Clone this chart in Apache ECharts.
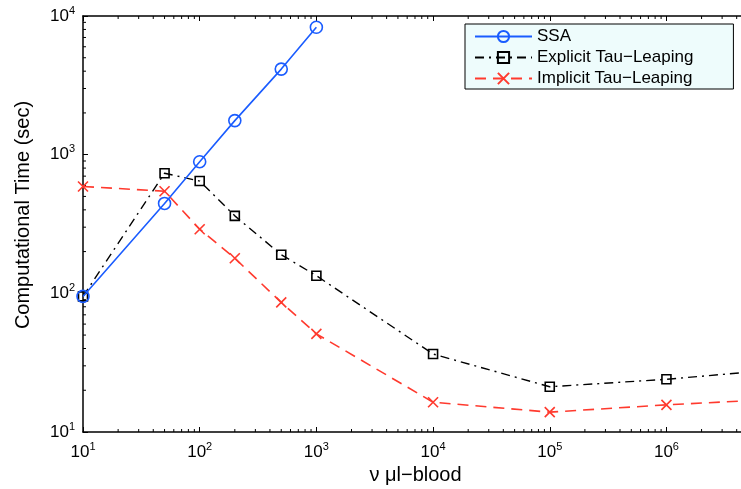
<!DOCTYPE html>
<html><head><meta charset="utf-8">
<script src="https://cdn.jsdelivr.net/npm/echarts@6/dist/echarts.min.js"></script>
<style>html,body{margin:0;padding:0;background:#fff}#c{width:741px;height:489px}</style>
</head><body><div id="c"></div>
<script>
const xSSA = [10, 50, 100, 200, 500, 1000];
const ySSA = [95, 445, 890, 1760, 4140, 8300];
const xTau = [10, 50, 100, 200, 500, 1000, 1e4, 1e5, 1e6, 5e6];
const yExplicit = [95, 735, 645, 362, 190, 134, 36.5, 21.2, 24, 27];
const yImplicit = [590, 545, 290, 179, 86, 51, 16.4, 13.9, 15.7, 16.8];
const xMinorTicks = [];
for (let d = 10; d < 5e6; d *= 10) for (let k = 2; k <= 9; k++) if (k * d < 5e6) xMinorTicks.push(k * d);
const yMinorTicks = [];
for (let d = 10; d < 1e4; d *= 10) for (let k = 2; k <= 9; k++) yMinorTicks.push(k * d);
const X_MIN = 10, X_MAX = 5e6, Y_MIN = 10, Y_MAX = 1e4;
const FONT = 'Liberation Sans, Arial, sans-serif';

const zip = (a, b) => a.map((v, i) => [v, b[i]]);
const fmt = v => {
  const e = Math.log10(v);
  if (Math.abs(e - Math.round(e)) > 1e-6) return '';
  return '{b|10}{e|' + Math.round(e) + '}';
};
const rich = {
  b: {fontSize: 17, fontFamily: FONT, color: '#000'},
  e: {fontSize: 11, fontFamily: FONT, color: '#000', padding: [0, 0, 11, 0]}
};

const chart = echarts.init(document.getElementById('c'));
chart.setOption({
  animation: false,
  backgroundColor: '#fff',
  grid: {left: 83, top: 16, width: 665, height: 416, outerBoundsMode: 'none', containLabel: false},
  legend: {
    data: ['SSA', 'Explicit Tau\u2212Leaping', 'Implicit Tau\u2212Leaping'],
    orient: 'vertical', left: 465, top: 24,
    backgroundColor: '#eefcfc', borderColor: '#000', borderWidth: 1,
    padding: [4, 40, 2, 9], itemGap: 4, itemWidth: 57, itemHeight: 14,
    textStyle: {fontSize: 17, fontFamily: FONT, color: '#000'}
  },
  xAxis: [{
    type: 'log', logBase: 10, min: X_MIN, max: X_MAX,
    name: '\u03bd \u03bcl\u2212blood', nameLocation: 'middle', nameGap: 30,
    nameTextStyle: {fontSize: 20, fontFamily: FONT, color: '#000'},
    axisLine: {lineStyle: {color: '#000', width: 1.5}},
    axisTick: {inside: true, length: 5, lineStyle: {color: '#000'}},
    axisLabel: {formatter: fmt, rich: rich, margin: 9, showMaxLabel: false},
    splitLine: {show: false}
  }, {
    type: 'log', logBase: 10, min: X_MIN, max: X_MAX, position: 'top',
    axisLine: {lineStyle: {color: '#000', width: 1.5}},
    axisTick: {inside: true, length: 5, lineStyle: {color: '#000'}},
    axisLabel: {show: false}, splitLine: {show: false}
  }],
  yAxis: [{
    type: 'log', logBase: 10, min: Y_MIN, max: Y_MAX,
    name: 'Computational Time (sec)', nameLocation: 'middle', nameGap: 50,
    nameTextStyle: {fontSize: 20, fontFamily: FONT, color: '#000', padding: [0, 0, 0, 18]},
    axisLine: {lineStyle: {color: '#000', width: 1.5}},
    axisTick: {inside: true, length: 5, lineStyle: {color: '#000'}},
    axisLabel: {formatter: fmt, rich: rich, margin: 8},
    splitLine: {show: false}
  }],
  series: [
    {
      name: 'SSA', type: 'line', data: zip(xSSA, ySSA),
      symbol: 'circle', symbolSize: 12, showSymbol: true,
      lineStyle: {color: '#1a5cff', width: 1.6, type: 'solid'},
      itemStyle: {color: 'rgba(0,0,0,0)', borderColor: '#1a5cff', borderWidth: 1.6},
      z: 4
    },
    {
      name: 'Explicit Tau\u2212Leaping', type: 'line', data: zip(xTau, yExplicit),
      symbol: 'rect', symbolSize: 9,
      lineStyle: {color: '#000', width: 1.4, type: [9, 5, 2, 5]},
      itemStyle: {color: 'rgba(0,0,0,0)', borderColor: '#000', borderWidth: 1.6},
      z: 3
    },
    {
      name: 'Implicit Tau\u2212Leaping', type: 'line', data: zip(xTau, yImplicit),
      symbol: 'path://M0,0L10,10M10,0L0,10', symbolSize: 10,
      lineStyle: {color: '#ff3a2e', width: 1.6, type: [11, 7]},
      itemStyle: {color: 'none', borderColor: '#ff3a2e', borderWidth: 1.6},
      z: 3
    },
    {
      type: 'custom', silent: true, data: xMinorTicks.map(v => [v, Y_MIN]),
      renderItem: (params, api) => {
        const v = api.value(0);
        const b = api.coord([v, Y_MIN]);
        const t = api.coord([v, Y_MAX]);
        return {type: 'group', children: [
          {type: 'line', shape: {x1: b[0], y1: b[1], x2: b[0], y2: b[1] - 3}, style: {stroke: '#000', lineWidth: 1}},
          {type: 'line', shape: {x1: t[0], y1: t[1], x2: t[0], y2: t[1] + 3}, style: {stroke: '#000', lineWidth: 1}}
        ]};
      }, z: 1
    },
    {
      type: 'custom', silent: true, data: yMinorTicks.map(v => [X_MIN, v]),
      renderItem: (params, api) => {
        const v = api.value(1);
        const l = api.coord([X_MIN, v]);
        return {type: 'line', shape: {x1: l[0], y1: l[1], x2: l[0] + 3, y2: l[1]}, style: {stroke: '#000', lineWidth: 1}};
      }, z: 1
    }
  ]
});
</script>
</body></html>
